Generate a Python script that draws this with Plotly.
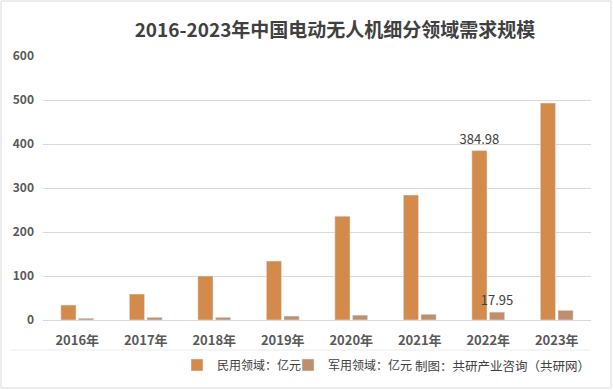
import plotly.graph_objects as go

years = ["2016年", "2017年", "2018年", "2019年", "2020年", "2021年", "2022年", "2023年"]
civil = [34, 59, 100, 134, 236, 284, 384.98, 493]
military = [4, 6, 6, 9, 11, 13, 17.95, 22]
civil_labels = ["", "", "", "", "", "", "384.98", ""]
military_labels = ["", "", "", "", "", "", "17.95", ""]

font = "Noto Sans CJK SC"
W, H = 613, 390
L, R, T, B = 43, 22, 56, 70
pw, ph = W - L - R, H - T - B

def px(x):
    return (x - L) / pw

def py(y):
    return (H - B - y) / ph

fig = go.Figure()
fig.add_trace(go.Bar(
    x=years, y=civil, name="民用领域：亿元", legend="legend",
    marker_color="#D38B4C",
    text=civil_labels, textposition="outside", cliponaxis=False, constraintext="none",
    textfont=dict(size=13, color="#404040", family=font),
))
fig.add_trace(go.Bar(
    x=years, y=military, name="军用领域：亿元", legend="legend2",
    marker_color="#BF8F6D",
    text=military_labels, textposition="outside", cliponaxis=False, constraintext="none",
    textfont=dict(size=13, color="#404040", family=font),
))

legend_style = dict(orientation="h", xref="container", yref="container",
                    xanchor="left", y=1 - 365 / H, yanchor="middle",
                    font=dict(size=12, color="#404040", family=font),
                    itemwidth=30, bgcolor="rgba(0,0,0,0)")

fig.update_layout(
    width=W, height=H,
    margin=dict(l=L, r=R, t=T, b=B, autoexpand=False),
    paper_bgcolor="white", plot_bgcolor="white",
    barmode="group", bargap=0.485, bargroupgap=0.14,
    font=dict(family=font, color="#595959", size=12),
    title=dict(text="<b>2016-2023年中国电动无人机细分领域需求规模</b>",
               x=335 / W, xanchor="center", y=1 - 30 / H, yanchor="middle",
               font=dict(size=19, color="#404040", family=font)),
    showlegend=True,
    legend=dict(x=177 / W, **legend_style),
    legend2=dict(x=288 / W, **legend_style),
    xaxis=dict(showgrid=False, showline=True, linecolor="#D9D9D9", linewidth=1,
               ticks="", ticklabelstandoff=8,
               tickfont=dict(size=13, color="#595959", family=font, weight="bold")),
    yaxis=dict(range=[0, 600], dtick=100, showgrid=True, gridcolor="#D9D9D9",
               gridwidth=1, zeroline=False, showline=False, ticks="", ticklabelstandoff=8,
               tickfont=dict(size=12, color="#595959", family=font, weight="bold")),
    annotations=[dict(text="制图：共研产业咨询（共研网）", xref="paper", yref="paper",
                      x=px(413), y=py(365), xanchor="left", yanchor="middle", showarrow=False,
                      font=dict(size=12.5, color="#404040", family=font))],
    shapes=[
        dict(type="rect", xref="paper", yref="paper", x0=px(1), x1=px(611), y0=py(388), y1=py(1),
             line=dict(color="#D9D9D9", width=1)),
        dict(type="line", xref="paper", yref="paper", x0=px(10), x1=px(590), y0=py(350), y1=py(350),
             line=dict(color="#EBEBEB", width=1)),
    ],
)

fig.write_html("out.html", config={"displayModeBar": False},
               post_script="document.body.style.margin='0';")
